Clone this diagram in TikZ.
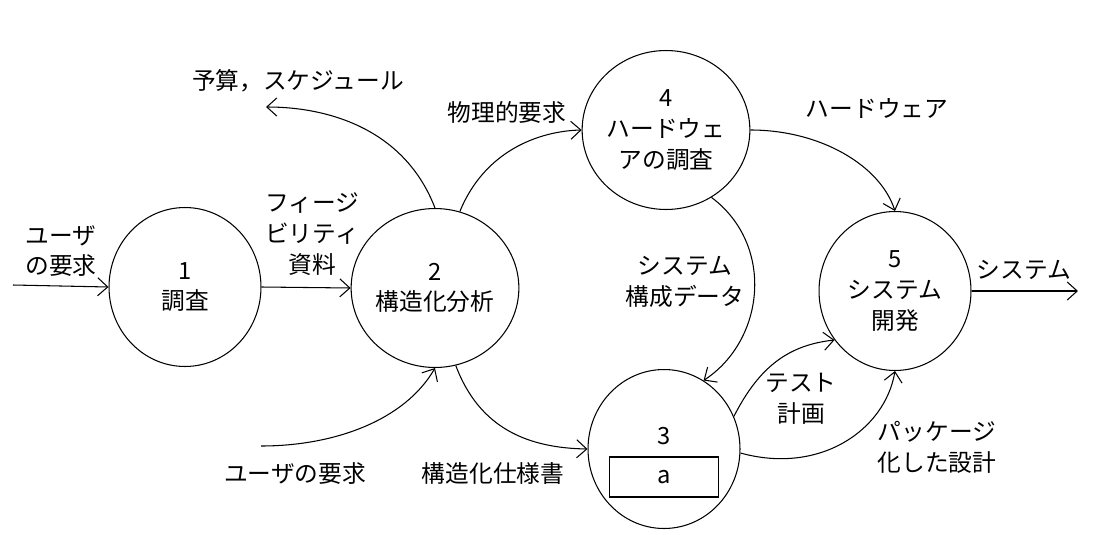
\documentclass[tikz,border=0pt]{standalone}
\usepackage{fontspec}
\newfontfamily\jpfont{Noto Sans CJK JP}
\usetikzlibrary{arrows.meta,shapes.geometric}

\tikzset{
  proc/.style={draw, ellipse, minimum width=3.04cm, minimum height=3.18cm, inner sep=0pt, align=center},
  lbl/.style={align=center, inner sep=0pt},
  flow/.style={-{Straight Barb[length=2mm,width=3.6mm]}, semithick}
}

\begin{document}
\begin{tikzpicture}[x=0.02cm, y=-0.02cm, font=\jpfont\fontsize{13.5}{17.5}\selectfont, semithick]
  \useasboundingbox (0,0) rectangle (1098,534);

  % processes
  \node[proc] (c1) at (185,287) {1\\調査};
  \node[proc] (c2) at (435,288) {2\\構造化分析};
  \node[proc] (c4) at (666,130) {4\\ハードウェ\\アの調査};
  \node[proc] (c5) at (895,291) {5\\システム\\開発};
  \node[proc] (c3) at (664,449) {};
  \node[lbl] (n3) at (664,436) {3};
  \node[draw, thick, minimum width=2.18cm, minimum height=0.8cm, inner sep=0pt] (a) at (664,477) {a};

  % free ends
  \coordinate (in1) at (13,285);
  \coordinate (bud) at (266,107);
  \coordinate (in2) at (261,446);
  \coordinate (out) at (1078,291);

  % flows
  \draw[flow] (in1) -- (c1.west);
  \draw[flow] (c1.east) -- (c2.west);
  \draw[flow] (c2.north) .. controls (405,130) and (330,107) .. (bud);
  \draw[flow] (c2.72) .. controls (485,150) and (540,131) .. (c4.west);
  \draw[flow] (in2) .. controls (335,446) and (405,420) .. (c2.south);
  \draw[flow] (c2.-75) .. controls (480,430) and (530,448) .. (c3.west);
  \draw[flow] (c4.east) .. controls (820,130) and (880,165) .. (c5.north);
  \draw[flow] (c4.-56) .. controls (775,245) and (765,340) .. (c3.60);
  \draw[flow] (c3.25) .. controls (760,365) and (790,345) .. (c5.219);
  \draw[flow] (c3.-3) .. controls (820,475) and (885,430) .. (c5.south);
  \draw[flow] (c5.east) -- (out);

  % labels
  \node[lbl] (t1) at (61,251) {ユーザ\\の要求};
  \node[lbl] (t2) at (312,234) {フィージ\\ビリティ\\資料};
  \node[lbl] (t3) at (298,81) {予算，スケジュール};
  \node[lbl] (t4) at (507,112) {物理的要求};
  \node[lbl] (t5) at (295,474) {ユーザの要求};
  \node[lbl] (t6) at (493,473) {構造化仕様書};
  \node[lbl] (t7) at (877,109) {ハードウェア};
  \node[lbl] (t8) at (685,282) {システム\\構成データ};
  \node[lbl] (t9) at (801,399) {テスト\\計画};
  \node[lbl] (t10) at (937,447) {パッケージ\\化した設計};
  \node[lbl] (t11) at (1024,270) {システム};
\end{tikzpicture}
\end{document}
